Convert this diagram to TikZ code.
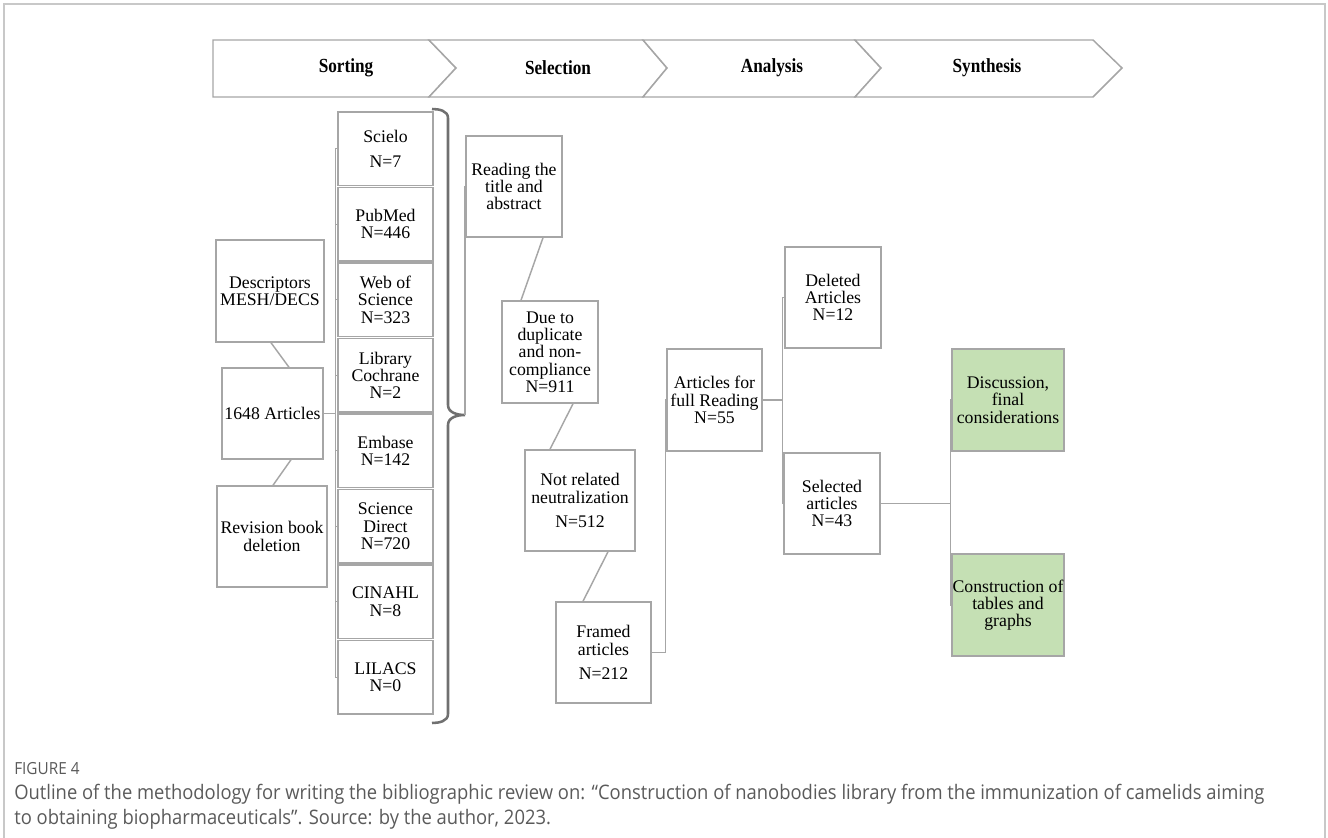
\documentclass[tikz,border=0pt]{standalone}
\usepackage{fontspec}
\setmainfont{Liberation Serif}
\newfontfamily\capfont{Open Sans}[FakeStretch=0.92]
\newfontfamily\banfont{Liberation Serif}[FakeStretch=0.86]
\usetikzlibrary{calc}
\definecolor{lg}{HTML}{A6A6A6}
\definecolor{gfill}{HTML}{C5E0B4}
\definecolor{brc}{HTML}{707070}
\definecolor{capc}{HTML}{5A5A5A}
\definecolor{framec}{HTML}{C8C8C8}
\begin{document}
\begin{tikzpicture}[x=0.75pt,y=-0.75pt,
  box/.style={draw=lg, line width=1.1pt, fill=white, align=center, inner sep=0pt,
    font=\fontsize{13.3}{13}\selectfont},
  gbox/.style={box, fill=gfill},
  sz/.style 2 args={minimum width=#1*0.75pt, minimum height=#2*0.75pt},
  conn/.style={draw=lg, line width=1.1pt},
  chev/.style={draw=lg, line width=1.1pt, fill=white, line join=miter},
  chevlabel/.style={font=\banfont\fontsize{15}{17}\selectfont\bfseries, inner sep=0pt},
  bracestyle/.style={draw=brc, line width=1.9pt},
  frame/.style={draw=framec, line width=1.2pt}
]
\useasboundingbox (0,0) rectangle (1328,838);
% outer frame
\draw[frame] (4,838) -- (4,4) -- (1325,4) -- (1325,838);

% banner
\draw[chev] (213,40) -- (429,40) -- (456,68) -- (429,97) -- (213,97) -- cycle;
\draw[chev] (429,40) -- (643,40) -- (667,68) -- (643,97) -- (429,97) -- (456,68) -- cycle;
\draw[chev] (643,40) -- (855,40) -- (881,68) -- (855,97) -- (643,97) -- (667,68) -- cycle;
\draw[chev] (855,40) -- (1093,40) -- (1122,68) -- (1093,97) -- (855,97) -- (881,68) -- cycle;
\node[chevlabel] (ph1) at (346,68) {Sorting};
\node[chevlabel] (ph2) at (558,68) {Selection};
\node[chevlabel] (ph3) at (772,68) {Analysis};
\node[chevlabel] (ph4) at (987,68) {Synthesis};

% database column
\node[box, sz={95}{73.5}] (db1) at (385.5,148.75) {Scielo\\[6pt]N=7};
\node[box, sz={95}{73.5}] (db2) at (385.5,224.25) {PubMed\\N=446};
\node[box, sz={95}{73.5}] (db3) at (385.5,299.75) {Web of\\Science\\N=323};
\node[box, sz={95}{73.5}] (db4) at (385.5,375.25) {Library\\Cochrane\\N=2};
\node[box, sz={95}{73.5}] (db5) at (385.5,450.75) {Embase\\N=142};
\node[box, sz={95}{73.5}] (db6) at (385.5,526.25) {Science\\Direct\\N=720};
\node[box, sz={95}{73.5}] (db7) at (385.5,601.75) {CINAHL\\N=8};
\node[box, sz={95}{73.5}] (db8) at (385.5,677.25) {LILACS\\N=0};

% left group
\node[box, sz={108}{102}] (desc) at (270,291) {Descriptors\\MESH/DECS};
\node[box, sz={101}{91}] (art) at (272.5,413.5) {1648 Articles};
\node[box, sz={110}{101}] (rev) at (272,536.5) {Revision book\\deletion};

\draw[conn] ($(desc.south)+(1,0)$) -- ($(art.north)+(16.5,0)$);
\draw[conn] ($(art.south)+(18.5,0)$) -- ($(rev.north)+(1,0)$);

% trunk for databases
\coordinate (dbt1) at ($(db1.west)+(-2,0)$);
\coordinate (dbt8) at ($(db8.west)+(-2,0)$);
\draw[conn] (dbt1) -- (dbt8);
\draw[conn] (art.east) -- (art.east -| dbt1);
\foreach \i in {1,...,8} { \draw[conn] ($(db\i.west)+(-2,0)$) -- (db\i.west); }

% brace
\coordinate (btop) at (432,109);
\coordinate (btip) at (465,415);
\coordinate (bbot) at (432,723);
\draw[bracestyle] (btop) to[out=0,in=90] (448,118) -- (448,405) to[out=-90,in=180] (btip)
  to[out=180,in=90] (448,425) -- (448,714) to[out=-90,in=0] (bbot);

% selection column
\node[box, sz={96}{101}] (read) at (514,186.5) {Reading the\\title and\\abstract};
\node[box, sz={96}{102}] (dup) at (550,352) {Due to\\duplicate\\and non-\\compliance\\N=911};
\node[box, sz={110}{101}] (notr) at (580,500.5) {Not related\\neutralization\\[5pt]N=512};
\node[box, sz={95}{101}] (fr) at (603.5,652.5) {Framed\\articles\\[5pt]N=212};

\draw[conn] (btip) |- (read.west);
\draw[conn] ($(read.south)+(29,0)$) -- ($(dup.north)+(-29,0)$);
\draw[conn] ($(dup.south)+(23,0)$) -- ($(notr.north)+(-30,0)$);
\draw[conn] ($(notr.south)+(28,0)$) -- ($(fr.north)+(-20.5,0)$);

% analysis
\node[box, sz={95}{102}] (afr) at (714.5,400) {Articles for\\full Reading\\N=55};
\node[box, sz={96}{101}] (del) at (833,297.5) {Deleted\\Articles\\N=12};
\node[box, sz={96}{101}] (sel) at (832,503.5) {Selected\\articles\\N=43};

\draw[conn] (fr.east) -| ($(afr.west)+(-1,0)$) -- (afr.west);
\coordinate (at1) at ($(del.west)+(-2,0)$);
\draw[conn] (at1) -- (at1 |- sel.west) -- (sel.west);
\draw[conn] (at1) -- (del.west);
\draw[conn] (afr.east) -- (afr.east -| at1);

% synthesis
\node[gbox, sz={112}{102}] (disc) at (1008,400) {Discussion,\\final\\considerations};
\node[gbox, sz={112}{102}] (cons) at (1008,605) {Construction of\\tables and\\graphs};
\coordinate (st1) at ($(disc.west)+(-1,0)$);
\draw[conn] (st1) -- (st1 |- cons.west) -- (cons.west);
\draw[conn] (st1) -- (disc.west);
\draw[conn] (sel.east) -- (sel.east -| st1);

% caption
\node[anchor=west, inner sep=0pt, text=capc, font=\capfont\fontsize{12.5}{14}\selectfont] (fig) at (14,769) {FIGURE 4};
\node[anchor=north west, inner sep=0pt, align=left, text=capc,
  font=\capfont\fontsize{15}{18.75}\selectfont] (cap) at (14,784)
  {Outline of the methodology for writing the bibliographic review on: “Construction of nanobodies library from the immunization of camelids aiming\\to obtaining biopharmaceuticals”. Source: by the author, 2023.};
\end{tikzpicture}
\end{document}
